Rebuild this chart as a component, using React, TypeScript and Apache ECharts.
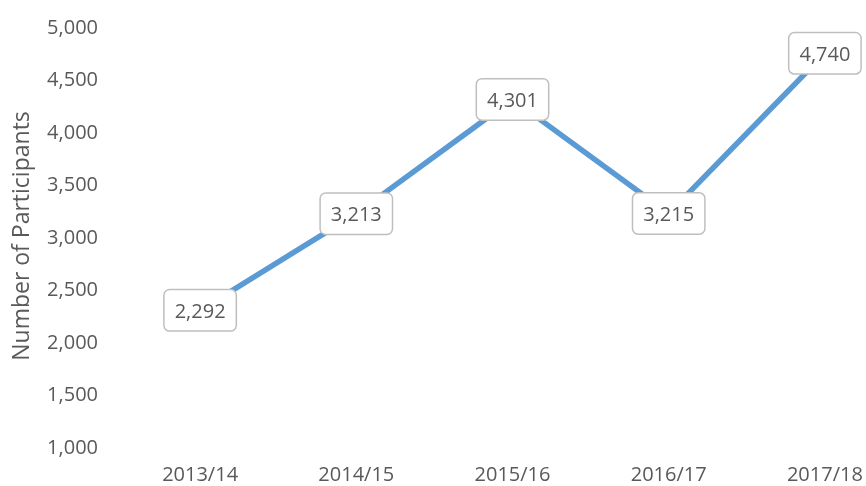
import React, { useEffect, useRef } from "react";
import * as echarts from "echarts";

const categories = ["2013/14", "2014/15", "2015/16", "2016/17", "2017/18"];
const participants = [2292, 3213, 4301, 3215, 4740];
const yAxisName = "Number of Participants";

const FONT = "'Open Sans', sans-serif";
const TXT = "#595959";

export default function App() {
  const ref = useRef<HTMLDivElement>(null);
  useEffect(() => {
    if (!ref.current) return;
    const chart = echarts.init(ref.current, null, { renderer: "svg" });
    chart.setOption({
      animation: false,
      grid: { left: 122, right: 0, top: 26, bottom: 40, containLabel: false },
      xAxis: {
        type: "category",
        data: categories,
        boundaryGap: true,
        axisLine: { show: false },
        axisTick: { show: false },
        axisLabel: { color: TXT, fontSize: 20, fontFamily: FONT, margin: 17 },
        splitLine: { show: false },
      },
      yAxis: {
        type: "value",
        min: 1000,
        max: 5000,
        interval: 500,
        name: yAxisName,
        nameLocation: "middle",
        nameGap: 91,
        nameTextStyle: { color: TXT, fontSize: 23, fontFamily: FONT },
        axisLine: { show: false },
        axisTick: { show: false },
        splitLine: { show: false },
        axisLabel: {
          color: TXT,
          fontSize: 20,
          fontFamily: FONT,
          margin: 24,
          formatter: (v: number) => v.toLocaleString("en-US"),
        },
      },
      series: [
        {
          type: "line",
          data: participants,
          showSymbol: true,
          symbol: "circle",
          symbolSize: 1,
          itemStyle: { color: "rgba(91,155,213,0)" },
          lineStyle: { color: "#5B9BD5", width: 5.5 },
          label: {
            show: true,
            position: "inside",
            color: TXT,
            fontSize: 20,
            fontFamily: FONT,
            backgroundColor: "#ffffff",
            borderColor: "#BFBFBF",
            borderWidth: 1.5,
            borderRadius: 5,
            padding: [9, 10],
            lineHeight: 22,
            formatter: (p: any) => Number(p.value).toLocaleString("en-US"),
          },
        },
      ],
    });
    return () => chart.dispose();
  }, []);
  return (
    <div style={{ position: "fixed", left: 0, top: 0, width: 866, height: 486, overflow: "hidden" }}>
      <div ref={ref} style={{ width: 903, height: 486 }} />
    </div>
  );
}
